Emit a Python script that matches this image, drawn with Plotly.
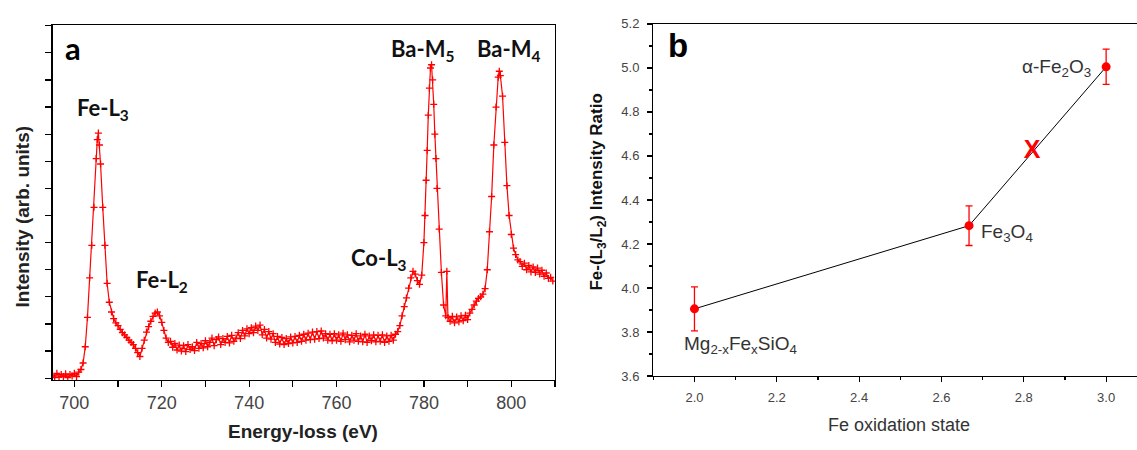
import plotly.graph_objects as go

# ---------------- Panel a: EELS spectrum ----------------
energy = [695, 695.5, 696, 696.5, 697, 697.5, 698, 698.5, 699, 699.5, 700, 700.5, 701, 701.5,
          702, 702.5, 703, 703.5, 704, 704.5, 705, 705.25, 705.5, 705.75, 706, 706.5, 707, 707.5,
          708, 708.5, 709, 709.5, 710, 710.5, 711, 711.5, 712, 712.5, 713, 713.5, 714, 714.5,
          715, 715.5, 716, 716.5, 717, 717.5, 718, 718.5, 719, 719.5, 720, 720.5, 721, 721.5,
          722, 722.5, 723, 723.5, 724, 724.5, 725, 725.5, 726, 726.5, 727, 727.5, 728, 728.5,
          729, 729.5, 730, 730.5, 731, 731.5, 732, 732.5, 733, 733.5, 734, 734.5, 735, 735.5,
          736, 736.5, 737, 737.5, 738, 738.5, 739, 739.5, 740, 740.5, 741, 741.5, 742, 742.5,
          743, 743.5, 744, 744.5, 745, 745.5, 746, 746.5, 747, 747.5, 748, 748.5, 749, 749.5,
          750, 750.5, 751, 751.5, 752, 752.5, 753, 753.5, 754, 754.5, 755, 755.5, 756, 756.5,
          757, 757.5, 758, 758.5, 759, 759.5, 760, 760.5, 761, 761.5, 762, 762.5, 763, 763.5,
          764, 764.5, 765, 765.5, 766, 766.5, 767, 767.5, 768, 768.5, 769, 769.5, 770, 770.5,
          771, 771.5, 772, 772.5, 773, 773.5, 774, 774.5, 775, 775.5, 776, 776.5, 777, 777.5,
          778, 778.5, 779, 779.5, 780, 780.25, 780.5, 780.75, 781, 781.25, 781.5, 781.75, 782,
          782.25, 782.5, 782.75, 783, 783.5, 784, 784.5, 785, 785.25, 785.5, 786, 786.5, 787,
          787.5, 788, 788.5, 789, 789.5, 790, 790.5, 791, 791.5, 792, 792.5, 793, 793.5, 794,
          794.5, 795, 795.5, 796, 796.5, 797, 797.25, 797.5, 798, 798.5, 799, 799.5, 800, 800.5,
          801, 801.5, 802, 802.5, 803, 803.5, 804, 804.5, 805, 805.5, 806, 806.5, 807, 807.5,
          808, 808.5, 809, 809.5]

intensity = [0.06, 0.01, 0.09, 0.02, 0.07, 0.03, 0.08, 0.01, 0.07, 0.04, 0.09, 0.03, 0.11, 0.16,
             0.28, 0.58, 1.12, 1.85, 2.45, 3.15, 4.05, 4.40, 4.52, 4.30, 3.95, 3.15, 2.45, 1.75,
             1.40, 1.22, 1.10, 1.02, 0.97, 0.90, 0.84, 0.80, 0.75, 0.70, 0.66, 0.62, 0.55, 0.47,
             0.40, 0.55, 0.70, 0.85, 0.95, 1.05, 1.14, 1.20, 1.22, 1.15, 1.03, 0.88, 0.74, 0.66,
             0.68, 0.57, 0.64, 0.52, 0.61, 0.50, 0.60, 0.49, 0.62, 0.53, 0.58, 0.51, 0.66, 0.55,
             0.64, 0.56, 0.69, 0.58, 0.66, 0.74, 0.60, 0.71, 0.76, 0.62, 0.73, 0.66, 0.77, 0.65,
             0.79, 0.68, 0.74, 0.84, 0.73, 0.88, 0.78, 0.91, 0.82, 0.93, 0.84, 0.96, 0.88, 0.98,
             0.80, 0.90, 0.74, 0.86, 0.72, 0.82, 0.66, 0.77, 0.63, 0.75, 0.62, 0.73, 0.64, 0.76,
             0.65, 0.77, 0.66, 0.79, 0.68, 0.81, 0.70, 0.83, 0.71, 0.85, 0.72, 0.86, 0.73, 0.87,
             0.74, 0.82, 0.70, 0.81, 0.69, 0.82, 0.70, 0.80, 0.68, 0.83, 0.71, 0.80, 0.67, 0.79,
             0.70, 0.82, 0.68, 0.78, 0.67, 0.81, 0.66, 0.78, 0.69, 0.80, 0.67, 0.79, 0.68, 0.80,
             0.66, 0.78, 0.68, 0.79, 0.70, 0.81, 0.86, 0.97, 1.15, 1.32, 1.48, 1.66, 1.85, 1.97,
             1.92, 1.80, 1.73, 1.90, 2.50, 3.00, 3.65, 4.20, 4.85, 5.35, 5.72, 5.78, 5.50,
             5.05, 4.50, 4.05, 3.50, 2.75, 1.95, 1.35, 1.15, 1.97, 1.12, 1.05, 1.14, 1.02,
             1.13, 1.04, 1.15, 1.06, 1.16, 1.08, 1.20, 1.27, 1.35, 1.42, 1.47, 1.50, 1.55, 1.65,
             2.00, 2.70, 3.35, 4.30, 5.00, 5.55, 5.66, 5.58, 5.20, 4.35, 3.55, 3.00, 2.65, 2.40,
             2.28, 2.18, 2.15, 2.06, 2.12, 2.00, 2.08, 1.96, 2.05, 1.95, 2.03, 1.92, 1.99, 1.88,
             1.94, 1.84, 1.86, 1.79]

assert len(energy) == len(intensity)

peak_labels = ["Fe-L<sub>3</sub>", "Fe-L<sub>2</sub>", "Co-L<sub>3</sub>", "Ba-M<sub>5</sub>", "Ba-M<sub>4</sub>"]
peak_label_x = [706.6, 720.1, 769.8, 779.7, 799.4]
peak_label_y = [4.96, 1.80, 2.20, 6.05, 6.05]

# ---------------- Panel b: L3/L2 ratio ----------------
ox_state = [2.0, 2.667, 3.0]
ratio = [3.905, 4.283, 5.005]
ratio_err = [0.10, 0.09, 0.08]
sample_x = [2.82]
sample_y = [4.62]
sample_mark = ["X"]

RED = "#ff0000"
AX_FONT = "Liberation Sans, Arial, sans-serif"
LBL_FONT = "Lato, Open Sans, sans-serif"

fig = go.Figure()

fig.add_trace(go.Scatter(
    x=energy, y=intensity, mode="lines+markers",
    line=dict(color=RED, width=1.2),
    marker=dict(symbol="cross-thin", size=5, line=dict(color=RED, width=1.3), color=RED),
    xaxis="x", yaxis="y", showlegend=False, hoverinfo="skip"))

fig.add_trace(go.Scatter(
    x=ox_state, y=ratio, mode="lines",
    line=dict(color="black", width=1),
    xaxis="x2", yaxis="y2", showlegend=False, hoverinfo="skip"))

fig.add_trace(go.Scatter(
    x=ox_state, y=ratio, mode="markers",
    marker=dict(color=RED, size=9),
    error_y=dict(type="data", array=ratio_err, visible=True, color=RED, thickness=1.3, width=3.5),
    xaxis="x2", yaxis="y2", showlegend=False, hoverinfo="skip"))

fig.add_trace(go.Scatter(
    x=sample_x, y=sample_y, mode="text", text=sample_mark,
    textposition="middle center",
    textfont=dict(family=AX_FONT, size=25, color=RED, weight="bold"),
    xaxis="x2", yaxis="y2", showlegend=False, hoverinfo="skip"))

annotations = []
for t, xx, yy in zip(peak_labels, peak_label_x, peak_label_y):
    annotations.append(dict(text="<b>" + t + "</b>", x=xx, y=yy, xref="x", yref="y",
                            showarrow=False, xanchor="center", yanchor="middle",
                            font=dict(family=LBL_FONT, size=22, color="#111111")))


def paper_note(text, px, py, size, color, family=AX_FONT, angle=0):
    return dict(text=text, x=px / 1137, y=1 - py / 450, xref="paper", yref="paper",
                xanchor="center", yanchor="middle", showarrow=False, textangle=angle,
                font=dict(family=family, size=size, color=color))


annotations += [
    paper_note("<b>a</b>", 72.7, 42.5, 31, "black", family=LBL_FONT),
    paper_note("<b>b</b>", 678, 40, 33, "black"),
    paper_note("<b>Intensity (arb. units)</b>", 22, 216.7, 19, "#222222", angle=-90),
    paper_note("<b>Energy-loss (eV)</b>", 303, 439, 19, "#222222"),
    paper_note("<b>Fe-(L<sub>3</sub>/L<sub>2</sub>) Intensity Ratio</b>", 598, 192, 17, "#111111", angle=-90),
    paper_note("Fe oxidation state", 899, 432, 18, "#333333"),
    dict(text="Mg<sub>2-x</sub>Fe<sub>x</sub>SiO<sub>4</sub>", x=1.969, y=3.74, xref="x2", yref="y2",
         showarrow=False, xanchor="left", yanchor="middle",
         font=dict(family=AX_FONT, size=19, color="#333333")),
    dict(text="Fe<sub>3</sub>O<sub>4</sub>", x=2.691, y=4.25, xref="x2", yref="y2",
         showarrow=False, xanchor="left", yanchor="middle",
         font=dict(family=AX_FONT, size=19, color="#333333")),
    dict(text="α-Fe<sub>2</sub>O<sub>3</sub>", x=2.967, y=5.0, xref="x2", yref="y2",
         showarrow=False, xanchor="right", yanchor="middle",
         font=dict(family=AX_FONT, size=19, color="#333333")),
]

fig.update_layout(
    width=1137, height=450,
    margin=dict(l=0, r=0, t=0, b=0),
    paper_bgcolor="white", plot_bgcolor="white",
    annotations=annotations,
    xaxis=dict(domain=[52.5 / 1137, 555 / 1137], range=[695, 810], anchor="y",
               showline=True, linecolor="black", linewidth=1.3, mirror=True,
               showgrid=False, zeroline=False,
               tickmode="array", tickvals=[700, 720, 740, 760, 780, 800],
               ticks="outside", ticklen=6, tickwidth=1.2, tickcolor="black",
               minor=dict(tickmode="array", tickvals=[710, 730, 750, 770, 790, 810],
                          ticks="outside", ticklen=6, tickwidth=1.2, tickcolor="black"),
               tickfont=dict(family=AX_FONT, size=18, color="#444444")),
    yaxis=dict(domain=[1 - 386 / 450, 1 - 19 / 450], range=[-0.036, 6.506], anchor="x",
               showline=True, linecolor="black", linewidth=1.3, mirror=True,
               showgrid=False, zeroline=False, showticklabels=False,
               tickmode="array", tickvals=[0, 1, 2, 3, 4, 5, 6],
               ticks="outside", ticklen=6, tickwidth=1.2, tickcolor="black",
               minor=dict(tickmode="array", tickvals=[0.5, 1.5, 2.5, 3.5, 4.5, 5.5, 6.5],
                          ticks="outside", ticklen=6, tickwidth=1.2, tickcolor="black")),
    xaxis2=dict(domain=[653.3 / 1137, 1.0], range=[1.9, 3.075], anchor="y2",
                showline=True, linecolor="black", linewidth=1.3, mirror=True,
                showgrid=False, zeroline=False,
                tickmode="array", tickvals=[2.0, 2.2, 2.4, 2.6, 2.8, 3.0],
                ticktext=["2.0", "2.2", "2.4", "2.6", "2.8", "3.0"],
                ticks="outside", ticklen=5, tickwidth=1.2, tickcolor="black",
                ticklabelstandoff=4,
                minor=dict(tickmode="array", tickvals=[1.9, 2.1, 2.3, 2.5, 2.7, 2.9],
                           ticks="outside", ticklen=3, tickwidth=1.2, tickcolor="black"),
                tickfont=dict(family=AX_FONT, size=13, color="#444444")),
    yaxis2=dict(domain=[1 - 381.7 / 450, 1 - 17.5 / 450], range=[3.6, 5.2], anchor="x2",
                showline=True, linecolor="black", linewidth=1.3, mirror=False,
                showgrid=False, zeroline=False,
                tickmode="array", tickvals=[3.6, 3.8, 4.0, 4.2, 4.4, 4.6, 4.8, 5.0, 5.2],
                ticktext=["3.6", "3.8", "4.0", "4.2", "4.4", "4.6", "4.8", "5.0", "5.2"],
                ticks="outside", ticklen=5, tickwidth=1.2, tickcolor="black",
                ticklabelstandoff=5,
                minor=dict(tickmode="array", tickvals=[3.7, 3.9, 4.1, 4.3, 4.5, 4.7, 4.9, 5.1],
                           ticks="outside", ticklen=3, tickwidth=1.2, tickcolor="black"),
                tickfont=dict(family=AX_FONT, size=13, color="#444444")),
)

fig.write_html("out.html",
               config={"displayModeBar": False, "staticPlot": True},
               post_script="document.body.style.margin='0';document.body.style.overflow='hidden';")
